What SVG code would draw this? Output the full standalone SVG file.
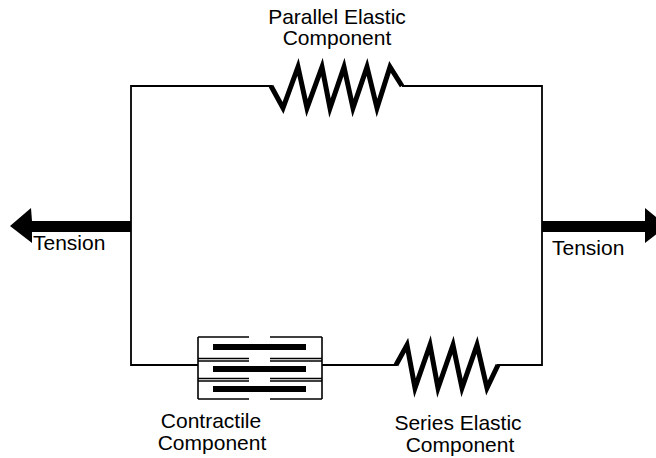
<svg xmlns="http://www.w3.org/2000/svg" width="656" height="458" viewBox="0 0 656 458">
<style>
.wire{fill:none;stroke:#000;stroke-width:1.8}
.spring{fill:none;stroke:#000;stroke-width:5;stroke-linejoin:miter;stroke-miterlimit:6}
.box{fill:none;stroke:#000;stroke-width:1.6}
.bar{fill:#000}
.lbl{font-family:"Liberation Sans",Arial,sans-serif;font-size:21px;fill:#000}
.arrow{fill:#000}
</style>
<rect width="656" height="458" fill="#fff"/>
<g id="connectors">
<path class="wire" d="M272,86 H131 V365 H198"/>
<path class="wire" d="M402,86 H542 V365 H497"/>
<path class="wire" d="M322,365 H397"/>
</g>
<g id="parallel-elastic">
<polyline class="spring" points="271,86 283,108 298,67 307,108 322,67 330,108 344,67 353,108 367,67 377,108 390,67 402,86"/>
<text class="lbl" x="337" y="24" text-anchor="middle">Parallel Elastic</text>
<text class="lbl" x="337" y="45" text-anchor="middle">Component</text>
</g>
<g id="contractile">
<path class="box" d="M198,337 V399 M322,337 V399 M198,337 H249 M270,337 H322 M198,358.5 H249 M270,358.5 H322 M198,361 H249 M270,361 H322 M198,378.5 H249 M270,378.5 H322 M198,381 H249 M270,381 H322 M198,399 H249 M270,399 H322"/>
<rect class="bar" x="213" y="344" width="93" height="6"/>
<rect class="bar" x="213" y="366" width="93" height="6"/>
<rect class="bar" x="213" y="386" width="93" height="6"/>
<text class="lbl" x="211" y="428" text-anchor="middle">Contractile</text>
<text class="lbl" x="212" y="450" text-anchor="middle">Component</text>
</g>
<g id="series-elastic">
<polyline class="spring" points="396,365 407,345 415,388 430,345 438,388 453,345 462,388 477,345 487,388 498,365"/>
<text class="lbl" x="458" y="430" text-anchor="middle">Series Elastic</text>
<text class="lbl" x="460" y="452" text-anchor="middle">Component</text>
</g>
<g id="tension-left">
<polygon class="arrow" points="131,221 32,221 31,208 10,226 32,243 32,232 131,232"/>
<text class="lbl" x="33" y="250">Tension</text>
</g>
<g id="tension-right">
<polygon class="arrow" points="542,221 645,221 645,208 667,226 645,243 645,232 542,232"/>
<text class="lbl" x="552" y="255">Tension</text>
</g>
</svg>
